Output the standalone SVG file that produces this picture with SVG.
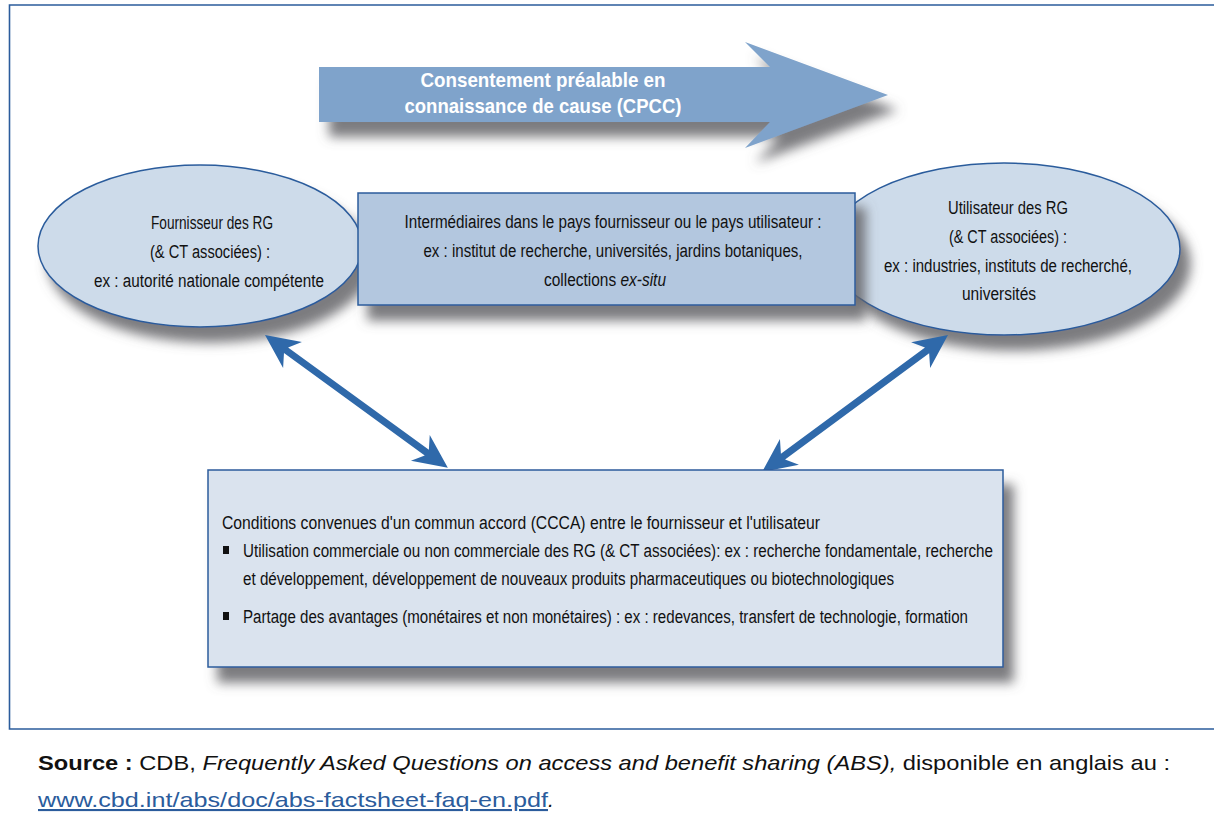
<svg xmlns="http://www.w3.org/2000/svg" width="1214" height="830" viewBox="0 0 1214 830">
<defs>
<filter id="sh" x="-20%" y="-30%" width="150%" height="180%">
<feGaussianBlur in="SourceAlpha" stdDeviation="6"/>
<feOffset dx="10" dy="15" result="b"/>
<feFlood flood-color="#656569" flood-opacity="0.85"/>
<feComposite in2="b" operator="in"/>
<feMerge><feMergeNode/><feMergeNode in="SourceGraphic"/></feMerge>
</filter>
<style>
.frame{stroke:#2b5c9c;stroke-width:1.6;fill:none}
.ell{fill:#cddbea;stroke:#2b5c9c;stroke-width:1.5}
.box{stroke:#2b5c9c;stroke-width:1.5}
.t{font-family:"Liberation Sans",Arial,sans-serif;font-size:18px;fill:#111111}
.c{text-anchor:middle}
.w{font-family:"Liberation Sans",Arial,sans-serif;font-size:21px;font-weight:bold;fill:#ffffff;text-anchor:middle}
.conn{fill:#2f69aa}
.src{font-family:"Liberation Sans",Arial,sans-serif;font-size:21px;fill:#111111}
.lnk{font-family:"Liberation Sans",Arial,sans-serif;font-size:21px;fill:#2b5c9c;text-decoration:underline}
</style>
</defs>
<rect width="1214" height="830" fill="#ffffff"/>
<g id="frame">
<path class="frame" d="M1214,5 H9.5 V729 H1214"/>
</g>

<g id="cpcc-arrow">
<polygon points="319,67 770,67 745,42 888,95 745,148 770,122 319,122" fill="#7fa3cb" filter="url(#sh)"/>
<text class="w" x="543" y="87" textLength="245" lengthAdjust="spacingAndGlyphs">Consentement préalable en</text>
<text class="w" x="543" y="113" textLength="277" lengthAdjust="spacingAndGlyphs">connaissance de cause (CPCC)</text>
</g>

<g id="fournisseur">
<ellipse class="ell" cx="200" cy="246" rx="162" ry="81" filter="url(#sh)"/>
<text class="t c" x="212" y="229" textLength="122" lengthAdjust="spacingAndGlyphs">Fournisseur des RG</text>
<text class="t c" x="210" y="258" textLength="120" lengthAdjust="spacingAndGlyphs">(&amp; CT associées) :</text>
<text class="t c" x="209" y="287" textLength="230" lengthAdjust="spacingAndGlyphs">ex : autorité nationale compétente</text>
</g>

<g id="utilisateur">
<ellipse class="ell" cx="1004" cy="249" rx="176" ry="86" filter="url(#sh)"/>
<text class="t c" x="1008" y="214" textLength="120" lengthAdjust="spacingAndGlyphs">Utilisateur des RG</text>
<text class="t c" x="1008" y="243" textLength="118" lengthAdjust="spacingAndGlyphs">(&amp; CT associées) :</text>
<text class="t c" x="1008" y="272" textLength="248" lengthAdjust="spacingAndGlyphs">ex : industries, instituts de recherché,</text>
<text class="t c" x="999" y="300" textLength="74" lengthAdjust="spacingAndGlyphs">universités</text>
</g>

<g id="intermediaires">
<rect class="box" x="358" y="193" width="497" height="112" fill="#b3c7df" filter="url(#sh)"/>
<text class="t c" x="613" y="228" textLength="417" lengthAdjust="spacingAndGlyphs">Intermédiaires dans le pays fournisseur ou le pays utilisateur :</text>
<text class="t c" x="613" y="257" textLength="379" lengthAdjust="spacingAndGlyphs">ex : institut de recherche, universités, jardins botaniques,</text>
<text class="t c" x="605" y="286" textLength="122" lengthAdjust="spacingAndGlyphs">collections <tspan font-style="italic">ex-situ</tspan></text>
</g>

<g id="connectors">
<path class="conn" transform="translate(265,335) rotate(36)" d="M0,0 L34,-16 L26,-3.5 L200,-3.5 L192,-16 L226,0 L192,16 L200,3.5 L26,3.5 L34,16 Z"/>
<path class="conn" transform="translate(948,335) rotate(143.6)" d="M0,0 L34,-16 L26,-3.5 L205,-3.5 L197,-16 L231,0 L197,16 L205,3.5 L26,3.5 L34,16 Z"/>
</g>

<g id="ccca">
<rect class="box" x="208" y="470" width="795" height="197" fill="#dae3ee" filter="url(#sh)"/>
<text class="t" x="222" y="529" textLength="598" lengthAdjust="spacingAndGlyphs">Conditions convenues d'un commun accord (CCCA) entre le fournisseur et l'utilisateur</text>
<rect x="223" y="546" width="6" height="8" fill="#111111"/>
<text class="t" x="243" y="557" textLength="750" lengthAdjust="spacingAndGlyphs">Utilisation commerciale ou non commerciale des RG (&amp; CT associées): ex : recherche fondamentale, recherche</text>
<text class="t" x="243" y="585" textLength="651" lengthAdjust="spacingAndGlyphs">et développement, développement de nouveaux produits pharmaceutiques ou biotechnologiques</text>
<rect x="223" y="612" width="6" height="8" fill="#111111"/>
<text class="t" x="243" y="623" textLength="725" lengthAdjust="spacingAndGlyphs">Partage des avantages (monétaires et non monétaires) : ex : redevances, transfert de technologie, formation</text>
</g>

<g id="source">
<text class="src" x="38" y="770" textLength="1132" lengthAdjust="spacingAndGlyphs"><tspan font-weight="bold">Source :</tspan> CDB, <tspan font-style="italic">Frequently Asked Questions on access and benefit sharing (ABS),</tspan> disponible en anglais au :</text>
<text class="lnk" x="38" y="807" textLength="510" lengthAdjust="spacingAndGlyphs">www.cbd.int/abs/doc/abs-factsheet-faq-en.pdf</text>
<text class="src" x="548" y="807" font-style="italic">.</text>
</g>
</svg>
